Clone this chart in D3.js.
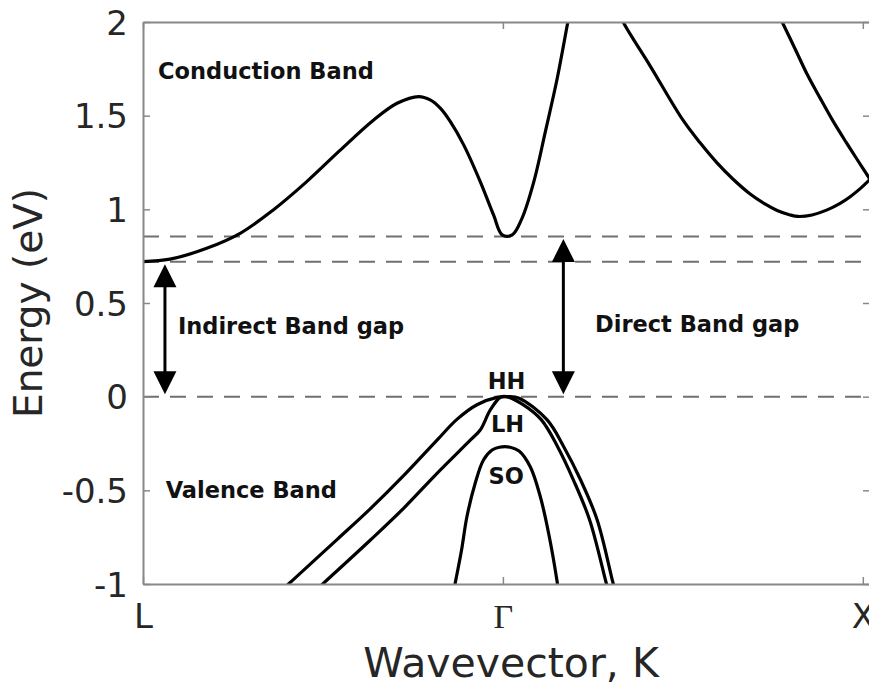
<!DOCTYPE html>
<html>
<head>
<meta charset="utf-8">
<script src="https://cdn.jsdelivr.net/npm/d3@7"></script>
<style>
  html, body { margin: 0; padding: 0; background: #fff; }
  svg { display: block; }
</style>
</head>
<body>
<svg id="chart" width="869" height="687"></svg>
<script>
// Band structure of Ge along L – Γ – X (energy in eV, k in path units)
const kTickValues = [0, 1, 2];
const kTickLabels = ["L", "Γ", "X"];
const eTickValues = [-1, -0.5, 0, 0.5, 1, 1.5, 2];
const eTickLabels = ["-1", "-0.5", "0", "0.5", "1", "1.5", "2"];

// Reference energy levels (dashed): valence top, indirect gap, direct gap
const levels = [0, 0.72, 0.855];

// Conduction bands
const cb1 = [[0, 0.721], [0.075, 0.734], [0.177, 0.792], [0.270, 0.872], [0.362, 0.997],
  [0.455, 1.148], [0.548, 1.316], [0.641, 1.477], [0.706, 1.566], [0.766, 1.602],
  [0.798, 1.584], [0.826, 1.540], [0.854, 1.468], [0.891, 1.344], [0.937, 1.148],
  [0.974, 0.970], [0.998, 0.864], [1.026, 0.864], [1.053, 0.952], [1.086, 1.148],
  [1.118, 1.415], [1.151, 1.700], [1.179, 1.985], [1.19, 2.097]];
const cb2 = [[1.306, 2.118], [1.334, 2.0], [1.409, 1.766], [1.500, 1.477], [1.548, 1.355],
  [1.595, 1.248], [1.639, 1.162], [1.687, 1.082], [1.728, 1.029], [1.762, 0.994],
  [1.798, 0.970], [1.820, 0.962], [1.859, 0.970], [1.901, 0.997], [1.937, 1.032],
  [1.964, 1.066], [1.992, 1.109], [2.020, 1.160]];
const cb3 = [[1.748, 2.113], [1.776, 2.0], [1.812, 1.856], [1.845, 1.722], [1.881, 1.595],
  [1.917, 1.472], [1.953, 1.360], [1.987, 1.258], [2.020, 1.160]];

// Valence bands: heavy hole, light hole, split-off
const hh = [[0.384, -1.036], [0.414, -0.983], [0.539, -0.763], [0.632, -0.598], [0.724, -0.422],
  [0.817, -0.232], [0.873, -0.120], [0.928, -0.043], [0.984, -0.004], [1.015, 0.0],
  [1.045, -0.008], [1.123, -0.124], [1.169, -0.267], [1.216, -0.445], [1.262, -0.658],
  [1.304, -0.979], [1.312, -1.04]];
const lh = [[0.476, -1.041], [0.506, -0.988], [0.632, -0.765], [0.724, -0.596], [0.817, -0.409],
  [0.910, -0.231], [0.937, -0.178], [0.965, -0.071], [0.993, -0.003], [1.010, 0.0],
  [1.057, -0.044], [1.107, -0.124], [1.152, -0.267], [1.196, -0.445], [1.241, -0.658],
  [1.285, -0.979], [1.293, -1.037]];
const so = [[0.862, -1.05], [0.868, -0.99], [0.885, -0.82], [0.9, -0.641], [0.923, -0.462],
  [0.946, -0.338], [0.97, -0.285], [0.99, -0.27], [1.02, -0.27], [1.045, -0.29],
  [1.076, -0.374], [1.104, -0.534], [1.127, -0.729], [1.15, -0.979], [1.155, -1.05]];

const bands = [cb1, cb2, cb3, hh, lh, so];

// Gap arrows: [k, lower E, upper E]
const gapArrows = [[0.061, 0, 0.72], [1.168, 0, 0.855]];

const svg = d3.select("#chart");
const plotLeft = 143, plotRight = 870, plotTop = 22, plotBottom = 584;

const x = d3.scaleLinear().domain([0, 2.02]).range([plotLeft, plotRight]);
const y = d3.scaleLinear().domain([-1, 2]).range([plotBottom, plotTop]);

const textColor = "#262626";
const axisColor = "#888888";

svg.append("defs").append("clipPath").attr("id", "plot-clip")
  .append("rect").attr("x", plotLeft).attr("y", plotTop)
  .attr("width", plotRight - plotLeft).attr("height", plotBottom - plotTop);

const plot = svg.append("g").attr("clip-path", "url(#plot-clip)");

// Dashed reference levels
plot.selectAll("line.level").data(levels).join("line")
  .attr("class", "level")
  .attr("x1", plotLeft).attr("x2", plotRight)
  .attr("y1", d => y(d)).attr("y2", d => y(d))
  .attr("stroke", "#707070").attr("stroke-width", 2)
  .attr("stroke-dasharray", "16,11");

// Bands
const line = d3.line()
  .x(d => x(d[0])).y(d => y(d[1]))
  .curve(d3.curveCatmullRom.alpha(0.5));

plot.selectAll("path.band").data(bands).join("path")
  .attr("class", "band")
  .attr("d", line)
  .attr("fill", "none")
  .attr("stroke", "#000")
  .attr("stroke-width", 3.2)
  .attr("stroke-linejoin", "round");

// Double-headed gap arrows
const headW = 23, headL = 23, inset = 2.5;
gapArrows.forEach(([k, e0, e1]) => {
  const cx = x(k), yTop = y(e1) + inset, yBot = y(e0) - inset;
  svg.append("line")
    .attr("x1", cx).attr("x2", cx)
    .attr("y1", yTop + headL - 2).attr("y2", yBot - headL + 2)
    .attr("stroke", "#000").attr("stroke-width", 3);
  svg.append("path")
    .attr("d", `M${cx},${yTop} L${cx - headW / 2},${yTop + headL} L${cx + headW / 2},${yTop + headL} Z`)
    .attr("fill", "#000");
  svg.append("path")
    .attr("d", `M${cx},${yBot} L${cx - headW / 2},${yBot - headL} L${cx + headW / 2},${yBot - headL} Z`)
    .attr("fill", "#000");
});

// Axes (ticks point inward)
function styleAxis(g) {
  g.select(".domain").attr("stroke", axisColor).attr("stroke-width", 2);
  g.selectAll(".tick line").attr("stroke", axisColor).attr("stroke-width", 1.5);
}

svg.append("g").attr("transform", `translate(${plotLeft},0)`)
  .call(d3.axisLeft(y).tickValues(eTickValues).tickSize(-7).tickSizeOuter(0).tickPadding(15)
    .tickFormat((d, i) => eTickLabels[i]))
  .call(styleAxis)
  .call(g => g.selectAll(".tick text")
    .attr("fill", textColor).attr("font-family", "DejaVu Sans").attr("font-size", 34)
    .attr("dy", "0.36em"));

svg.append("g").attr("transform", `translate(${plotRight},0)`)
  .call(d3.axisRight(y).tickValues(eTickValues).tickSize(-7).tickSizeOuter(0).tickFormat(""))
  .call(styleAxis);

svg.append("g").attr("transform", `translate(0,${plotTop})`)
  .call(d3.axisTop(x).tickValues(kTickValues).tickSize(-7).tickSizeOuter(0).tickFormat(""))
  .call(styleAxis);

svg.append("g").attr("transform", `translate(0,${plotBottom})`)
  .call(d3.axisBottom(x).tickValues(kTickValues).tickSize(-7).tickSizeOuter(0).tickPadding(20)
    .tickFormat((d, i) => kTickLabels[i]))
  .call(styleAxis)
  .call(g => g.selectAll(".tick text")
    .attr("fill", textColor).attr("font-size", 34)
    .attr("font-family", d => d === 1 ? "Liberation Serif" : "DejaVu Sans"));

// Axis titles
svg.append("text")
  .attr("transform", `translate(42,${(plotTop + plotBottom) / 2}) rotate(-90)`)
  .attr("text-anchor", "middle")
  .attr("font-family", "DejaVu Sans").attr("font-size", 39).attr("fill", textColor)
  .text("Energy (eV)");

svg.append("text")
  .attr("x", 511).attr("y", 677)
  .attr("text-anchor", "middle")
  .attr("font-family", "DejaVu Sans").attr("font-size", 41).attr("fill", textColor)
  .text("Wavevector, K");

// Annotations
function note(text, k, e, anchor) {
  svg.append("text")
    .attr("x", x(k)).attr("y", y(e))
    .attr("text-anchor", anchor)
    .attr("font-family", "DejaVu Sans").attr("font-weight", "bold")
    .attr("font-size", 22.5).attr("fill", "#111")
    .text(text);
}
note("Conduction Band", 0.042, 1.694, "start");
note("Indirect Band gap", 0.097, 0.337, "start");
note("Direct Band gap", 1.256, 0.345, "start");
note("Valence Band", 0.063, -0.542, "start");
note("HH", 1.010, 0.041, "middle");
note("LH", 1.013, -0.188, "middle");
note("SO", 1.009, -0.466, "middle");
</script>
</body>
</html>
